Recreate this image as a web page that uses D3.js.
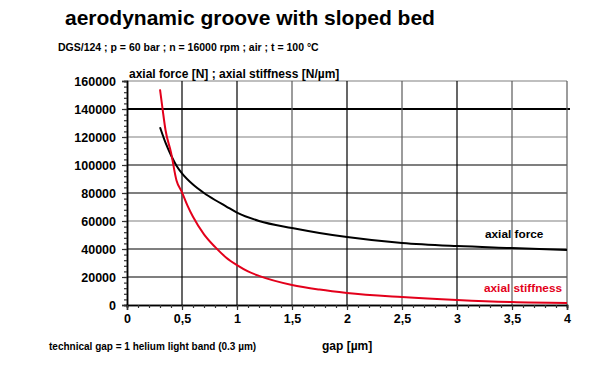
<!DOCTYPE html>
<html>
<head>
<meta charset="utf-8">
<script src="https://cdn.jsdelivr.net/npm/d3@7"></script>
<style>
body { margin:0; background:#fff; }
text { font-family: "Liberation Sans", Arial, sans-serif; font-weight: bold; }
</style>
</head>
<body>
<div id="svg_area"></div>
<script>
// values
var gapForce = [0.3, 0.35, 0.4, 0.45, 0.5, 0.6, 0.7, 0.8, 0.9, 1.0, 1.2, 1.5, 1.75, 2, 2.5, 3, 3.5, 4];
var axialForce = [127000, 116000, 107000, 99500, 94000, 86000, 80000, 75000, 70500, 66000, 60000, 55000, 51500, 48600, 44300, 42100, 40700, 39300];
var gapStiff = [0.3, 0.325, 0.35, 0.4, 0.45, 0.5, 0.55, 0.6, 0.7, 0.8, 0.9, 1.0, 1.1, 1.2, 1.5, 1.75, 2, 2.5, 3, 3.5, 4];
var axialStiffness = [154000, 139000, 125000, 109000, 89000, 80500, 71000, 63000, 50500, 41500, 34000, 28500, 24000, 20800, 14300, 11000, 8600, 5700, 3600, 2100, 1400];
var xTicks = [0, 0.5, 1, 1.5, 2, 2.5, 3, 3.5, 4];
var xTickLabels = ["0", "0,5", "1", "1,5", "2", "2,5", "3", "3,5", "4"];
var yTicks = [0, 20000, 40000, 60000, 80000, 100000, 120000, 140000, 160000];

var width = 600, height = 372;
var svg = d3.select("#svg_area")
    .append("svg")
    .attr("width", width)
    .attr("height", height);

var x = d3.scaleLinear().domain([0, 4]).range([127, 567]);
var y = d3.scaleLinear().domain([0, 160000]).range([305, 81]);

// title
svg.append("text").attr("x", 65).attr("y", 25)
    .style("font-size", "21px").text("aerodynamic groove with sloped bed");
svg.append("text").attr("x", 58).attr("y", 51)
    .style("font-size", "10.5px").text("DGS/124 ; p = 60 bar ; n = 16000 rpm ; air ; t = 100 °C");

// grid
var grayY = [120000, 60000, 160000];
yTicks.filter(d => d > 0).forEach(function(d) {
    svg.append("line")
        .attr("x1", x(0)).attr("x2", d == 140000 ? 570 : x(4))
        .attr("y1", y(d)).attr("y2", y(d))
        .attr("stroke", grayY.indexOf(d) >= 0 ? "#808080" : "#000")
        .attr("stroke-width", d == 140000 ? 2 : 1.2);
});
var grayX = [1.5, 2.5, 3.5, 4];
xTicks.filter(d => d > 0).forEach(function(d) {
    svg.append("line")
        .attr("x1", x(d)).attr("x2", x(d))
        .attr("y1", y(160000)).attr("y2", y(0))
        .attr("stroke", grayX.indexOf(d) >= 0 ? "#5a5a5a" : "#000")
        .attr("stroke-width", 1.2);
});

// axes
var yAxis = svg.append("g").attr("transform", "translate(" + x(0) + ",0)")
    .call(d3.axisLeft(y).tickValues(yTicks).tickSize(5).tickFormat(d3.format("d")));
var yMinor = svg.append("g").attr("transform", "translate(" + x(0) + ",0)")
    .call(d3.axisLeft(y).tickValues(d3.range(0, 160001, 4000)).tickSize(3).tickFormat(""));
var xAxis = svg.append("g").attr("transform", "translate(0," + y(0) + ")")
    .call(d3.axisBottom(x).tickValues(xTicks).tickSize(5).tickFormat((d, i) => xTickLabels[i]));
var xMinor = svg.append("g").attr("transform", "translate(0," + y(0) + ")")
    .call(d3.axisBottom(x).tickValues(d3.range(0, 4.001, 0.1)).tickSize(3).tickFormat(""));

[yAxis, yMinor, xAxis, xMinor].forEach(function(g) {
    g.select(".domain").attr("stroke", "#000").attr("stroke-width", 1.5);
    g.selectAll(".tick line").attr("stroke", "#333").attr("stroke-width", 1.2);
});
yAxis.selectAll("text").style("font-size", "12.5px").attr("x", -11).style("font-family", "Liberation Sans, Arial").style("font-weight", "bold");
xAxis.selectAll("text").style("font-size", "12.5px").attr("y", 9).style("font-family", "Liberation Sans, Arial").style("font-weight", "bold");

// curves
var line = d3.line().curve(d3.curveMonotoneX);
svg.append("path")
    .attr("d", line(gapForce.map((g, i) => [x(g), y(axialForce[i])])))
    .attr("fill", "none").attr("stroke", "#000").attr("stroke-width", 2);
svg.append("path")
    .attr("d", line(gapStiff.map((g, i) => [x(g), y(axialStiffness[i])])))
    .attr("fill", "none").attr("stroke", "#e3001b").attr("stroke-width", 2);

// labels
svg.append("text").attr("x", 129).attr("y", 78)
    .style("font-size", "12px").text("axial force [N] ; axial stiffness [N/µm]");
svg.append("text").attr("x", 485).attr("y", 238)
    .style("font-size", "11.8px").text("axial force");
svg.append("text").attr("x", 484).attr("y", 292)
    .style("font-size", "11.8px").attr("fill", "#e3001b").text("axial stiffness");
svg.append("text").attr("x", 322).attr("y", 350)
    .style("font-size", "12px").text("gap [µm]");
svg.append("text").attr("x", 49).attr("y", 350)
    .style("font-size", "10px").text("technical gap = 1 helium light band (0.3 µm)");
</script>
</body>
</html>
